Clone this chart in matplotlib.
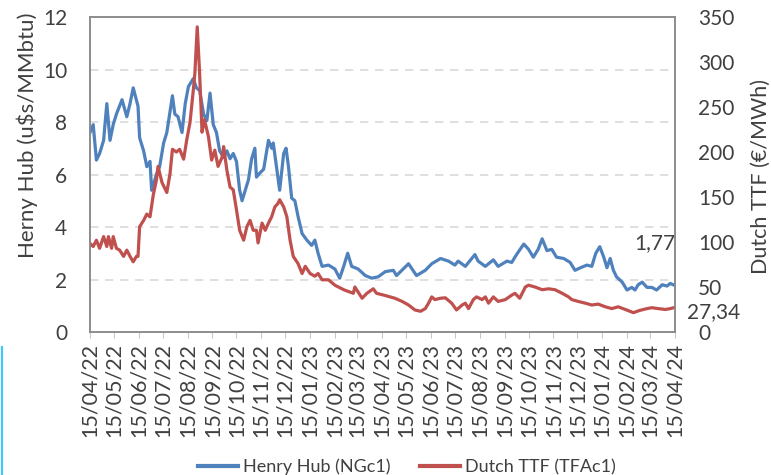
import matplotlib
matplotlib.use('Agg')
import matplotlib.pyplot as plt
from matplotlib.lines import Line2D
import pandas as pd

plt.rcParams['font.family'] = ['Lato', 'DejaVu Sans']

# Henry Hub (u$s/MMbtu)
hh_dates = ['2022-04-15', '2022-04-19', '2022-04-23', '2022-04-27', '2022-05-02', '2022-05-06',
            '2022-05-10', '2022-05-14', '2022-05-18', '2022-05-25', '2022-05-31', '2022-06-04',
            '2022-06-08', '2022-06-14', '2022-06-16', '2022-06-21', '2022-06-25', '2022-06-29',
            '2022-07-01', '2022-07-07', '2022-07-11', '2022-07-16', '2022-07-20', '2022-07-24',
            '2022-07-27', '2022-07-30', '2022-08-03', '2022-08-08', '2022-08-12', '2022-08-16',
            '2022-08-22', '2022-08-26', '2022-08-30', '2022-09-04', '2022-09-08', '2022-09-12',
            '2022-09-16', '2022-09-20', '2022-09-24', '2022-09-29', '2022-10-03', '2022-10-07',
            '2022-10-11', '2022-10-15', '2022-10-19', '2022-10-22', '2022-10-26', '2022-10-30',
            '2022-11-03', '2022-11-07', '2022-11-09', '2022-11-13', '2022-11-18', '2022-11-24',
            '2022-11-28', '2022-11-30', '2022-12-04', '2022-12-08', '2022-12-13', '2022-12-16',
            '2022-12-19', '2022-12-23', '2022-12-27', '2022-12-31', '2023-01-05', '2023-01-11',
            '2023-01-17', '2023-01-21', '2023-01-25', '2023-01-30', '2023-02-07', '2023-02-15',
            '2023-02-21', '2023-02-26', '2023-03-03', '2023-03-08', '2023-03-16', '2023-03-25',
            '2023-04-02', '2023-04-10', '2023-04-19', '2023-04-29', '2023-05-03', '2023-05-18',
            '2023-05-28', '2023-06-08', '2023-06-16', '2023-06-27', '2023-07-07', '2023-07-15',
            '2023-07-19', '2023-07-28', '2023-08-09', '2023-08-13', '2023-08-22', '2023-09-01',
            '2023-09-07', '2023-09-18', '2023-09-24', '2023-09-30', '2023-10-09', '2023-10-15',
            '2023-10-21', '2023-10-27', '2023-11-01', '2023-11-07', '2023-11-13', '2023-11-19',
            '2023-11-28', '2023-12-06', '2023-12-12', '2023-12-19', '2023-12-27', '2024-01-02',
            '2024-01-07', '2024-01-12', '2024-01-17', '2024-01-21', '2024-01-25', '2024-01-29',
            '2024-02-02', '2024-02-09', '2024-02-15', '2024-02-21', '2024-02-25', '2024-02-29',
            '2024-03-05', '2024-03-11', '2024-03-17', '2024-03-23', '2024-03-30', '2024-04-05',
            '2024-04-09', '2024-04-15']
hh_values = [7.6, 7.9, 6.55, 6.8, 7.3, 8.7,
             7.3, 7.9, 8.3, 8.85, 8.2, 8.7,
             9.3, 8.6, 7.4, 6.9, 6.3, 6.5,
             5.4, 6.0, 6.3, 7.2, 7.6, 8.4,
             9.0, 8.3, 8.2, 7.6, 8.7, 9.35,
             9.65, 9.3, 9.2, 8.3, 8.05, 9.1,
             7.9, 7.6, 6.9, 6.65, 6.9, 6.6,
             6.8, 6.5, 5.4, 5.0, 5.4, 5.8,
             6.6, 7.0, 5.9, 6.05, 6.2, 7.3,
             7.0, 7.2, 6.3, 5.4, 6.8, 7.0,
             6.3, 5.1, 5.0, 4.4, 3.75, 3.5,
             3.3, 3.5, 3.0, 2.5, 2.55, 2.4,
             2.05, 2.5, 3.0, 2.5, 2.4, 2.15,
             2.05, 2.1, 2.3, 2.35, 2.15, 2.6,
             2.15, 2.35, 2.6, 2.8, 2.7, 2.55,
             2.7, 2.5, 2.95, 2.7, 2.5, 2.75,
             2.5, 2.7, 2.65, 2.95, 3.35, 3.15,
             2.85, 3.15, 3.55, 3.1, 3.15, 2.85,
             2.8, 2.65, 2.35, 2.45, 2.55, 2.5,
             3.0, 3.25, 2.85, 2.45, 2.8, 2.35,
             2.1, 1.9, 1.6, 1.7, 1.6, 1.8,
             1.9, 1.7, 1.7, 1.6, 1.8, 1.75,
             1.85, 1.77]

# Dutch TTF (EUR/MWh)
ttf_dates = ['2022-04-15', '2022-04-19', '2022-04-23', '2022-04-27', '2022-05-02', '2022-05-06',
             '2022-05-08', '2022-05-12', '2022-05-14', '2022-05-18', '2022-05-22', '2022-05-27',
             '2022-05-31', '2022-06-04', '2022-06-08', '2022-06-12', '2022-06-14', '2022-06-16',
             '2022-06-21', '2022-06-25', '2022-06-29', '2022-07-03', '2022-07-07', '2022-07-09',
             '2022-07-14', '2022-07-20', '2022-07-24', '2022-07-27', '2022-08-01', '2022-08-05',
             '2022-08-10', '2022-08-14', '2022-08-18', '2022-08-22', '2022-08-24', '2022-08-27',
             '2022-08-30', '2022-09-02', '2022-09-05', '2022-09-10', '2022-09-14', '2022-09-18',
             '2022-09-22', '2022-09-27', '2022-09-29', '2022-10-03', '2022-10-07', '2022-10-11',
             '2022-10-15', '2022-10-19', '2022-10-24', '2022-10-28', '2022-11-01', '2022-11-05',
             '2022-11-09', '2022-11-11', '2022-11-16', '2022-11-20', '2022-11-24', '2022-11-28',
             '2022-12-02', '2022-12-06', '2022-12-08', '2022-12-13', '2022-12-17', '2022-12-21',
             '2022-12-25', '2022-12-31', '2023-01-05', '2023-01-09', '2023-01-15', '2023-01-21',
             '2023-01-25', '2023-01-30', '2023-02-07', '2023-02-15', '2023-02-26', '2023-03-10',
             '2023-03-12', '2023-03-21', '2023-03-27', '2023-04-04', '2023-04-08', '2023-04-17',
             '2023-04-25', '2023-05-01', '2023-05-10', '2023-05-18', '2023-05-26', '2023-06-02',
             '2023-06-08', '2023-06-12', '2023-06-16', '2023-06-20', '2023-06-27', '2023-07-03',
             '2023-07-11', '2023-07-17', '2023-07-24', '2023-07-28', '2023-08-01', '2023-08-07',
             '2023-08-11', '2023-08-18', '2023-08-22', '2023-08-26', '2023-09-01', '2023-09-07',
             '2023-09-16', '2023-09-24', '2023-09-28', '2023-10-04', '2023-10-11', '2023-10-15',
             '2023-10-23', '2023-11-01', '2023-11-09', '2023-11-17', '2023-11-26', '2023-12-04',
             '2023-12-08', '2023-12-16', '2023-12-25', '2024-01-02', '2024-01-10', '2024-01-19',
             '2024-01-27', '2024-02-04', '2024-02-13', '2024-02-23', '2024-03-02', '2024-03-11',
             '2024-03-17', '2024-03-25', '2024-04-03', '2024-04-09', '2024-04-15']
ttf_values = [98.5, 95, 102, 93, 106, 95,
              106, 93, 106, 93, 91, 84,
              91, 84, 78, 84, 84, 117,
              124, 131, 128, 152, 169, 184,
              166, 155, 176, 203, 200, 203,
              192, 214, 233, 268, 287, 339,
              287, 222, 236, 217, 191, 202,
              184, 194, 206, 180, 161, 158,
              136, 113, 102, 117, 124, 113,
              113, 99, 121, 113, 121, 128,
              139, 143, 147, 139, 128, 102,
              84, 76, 65, 73, 65, 62,
              65, 58, 58, 52, 47, 43,
              50, 37.5, 43, 48, 43, 41,
              39, 37.5, 34, 30, 24.5, 23,
              26, 32, 39, 36, 37.5, 38,
              32, 24.5, 30, 32, 26, 36,
              39, 36, 39, 32, 39, 34,
              36, 41, 43, 37.5, 50, 52,
              50, 47, 48, 47, 43, 39,
              36, 34, 32, 30, 31, 28,
              26, 28, 25, 21.5, 24, 26,
              27, 26, 25, 26, 27.34]

hh_last_label = '1,77'
ttf_last_label = '27,34'

blue = '#4F81BD'
red = '#C0504D'
txt = '#404040'
frame = '#8C8C8C'

fig = plt.figure(figsize=(7.71, 4.75), dpi=100)
ax = fig.add_axes([90 / 771, 1 - 332 / 475, 585 / 771, 315 / 475])
ax2 = ax.twinx()

ax.plot(pd.to_datetime(hh_dates), hh_values, color=blue, lw=2.3, zorder=3)
ax2.plot(pd.to_datetime(ttf_dates), ttf_values, color=red, lw=2.3, zorder=2)

start = pd.Timestamp('2022-04-15')
end = pd.Timestamp('2024-04-15')
ax.set_xlim(start, end)
ax.set_ylim(0, 12)
ax2.set_ylim(0, 350)
ax.set_yticks(range(0, 13, 2))
ax2.set_yticks(range(0, 351, 50))

ticks = pd.date_range('2022-04-01', '2024-04-01', freq='MS') + pd.Timedelta(days=14)
ax.set_xticks(ticks)
ax.set_xticklabels([t.strftime('%d/%m/%y') for t in ticks], rotation=90, fontsize=15.5, color=txt)

for y in range(2, 12, 2):
    ax.axhline(y, color='#D9D9D9', lw=1.2, ls=(0, (5, 4)), zorder=0)

for a in (ax, ax2):
    for s in a.spines.values():
        s.set_color(frame)
        s.set_linewidth(1.2)
ax.tick_params(axis='x', length=4, color='#C8C8C8', pad=4)
ax.tick_params(axis='y', length=0, labelsize=15, colors=txt, pad=16.5)
ax2.tick_params(axis='y', length=0, labelsize=15, colors=txt, pad=16.5)

fig.text(27 / 771, 1 - 135 / 475, r'Herny Hub (u\$s/MMbtu)', rotation=90,
         ha='center', va='center', fontsize=16, color=txt)
fig.text(761 / 771, 1 - 176 / 475, 'Dutch TTF (€/MWh)', rotation=90,
         ha='center', va='center', fontsize=15.5, color=txt)

ax.text(end, hh_values[-1] + 1.6, hh_last_label, ha='right', va='center', fontsize=15, color=txt)
ax2.text(1.02, ttf_values[-1] - 5, ttf_last_label, transform=ax2.get_yaxis_transform(),
         ha='left', va='center', fontsize=15, color=txt)

handles = [Line2D([], [], color=blue, lw=3), Line2D([], [], color=red, lw=3)]
fig.legend(handles, ['Henry Hub (NGc1)', 'Dutch TTF (TFAc1)'], loc='center',
           bbox_to_anchor=(407 / 771, 1 - 467 / 475), ncol=2, frameon=False,
           fontsize=13, handlelength=2.2, handletextpad=0.3, columnspacing=1.6,
           labelcolor=txt, borderpad=0)

fig.add_artist(Line2D([1.5 / 771, 1.5 / 771], [0, 1 - 347 / 475], color='#33CCFF', lw=1.5))

plt.savefig('out.png', dpi=100)
